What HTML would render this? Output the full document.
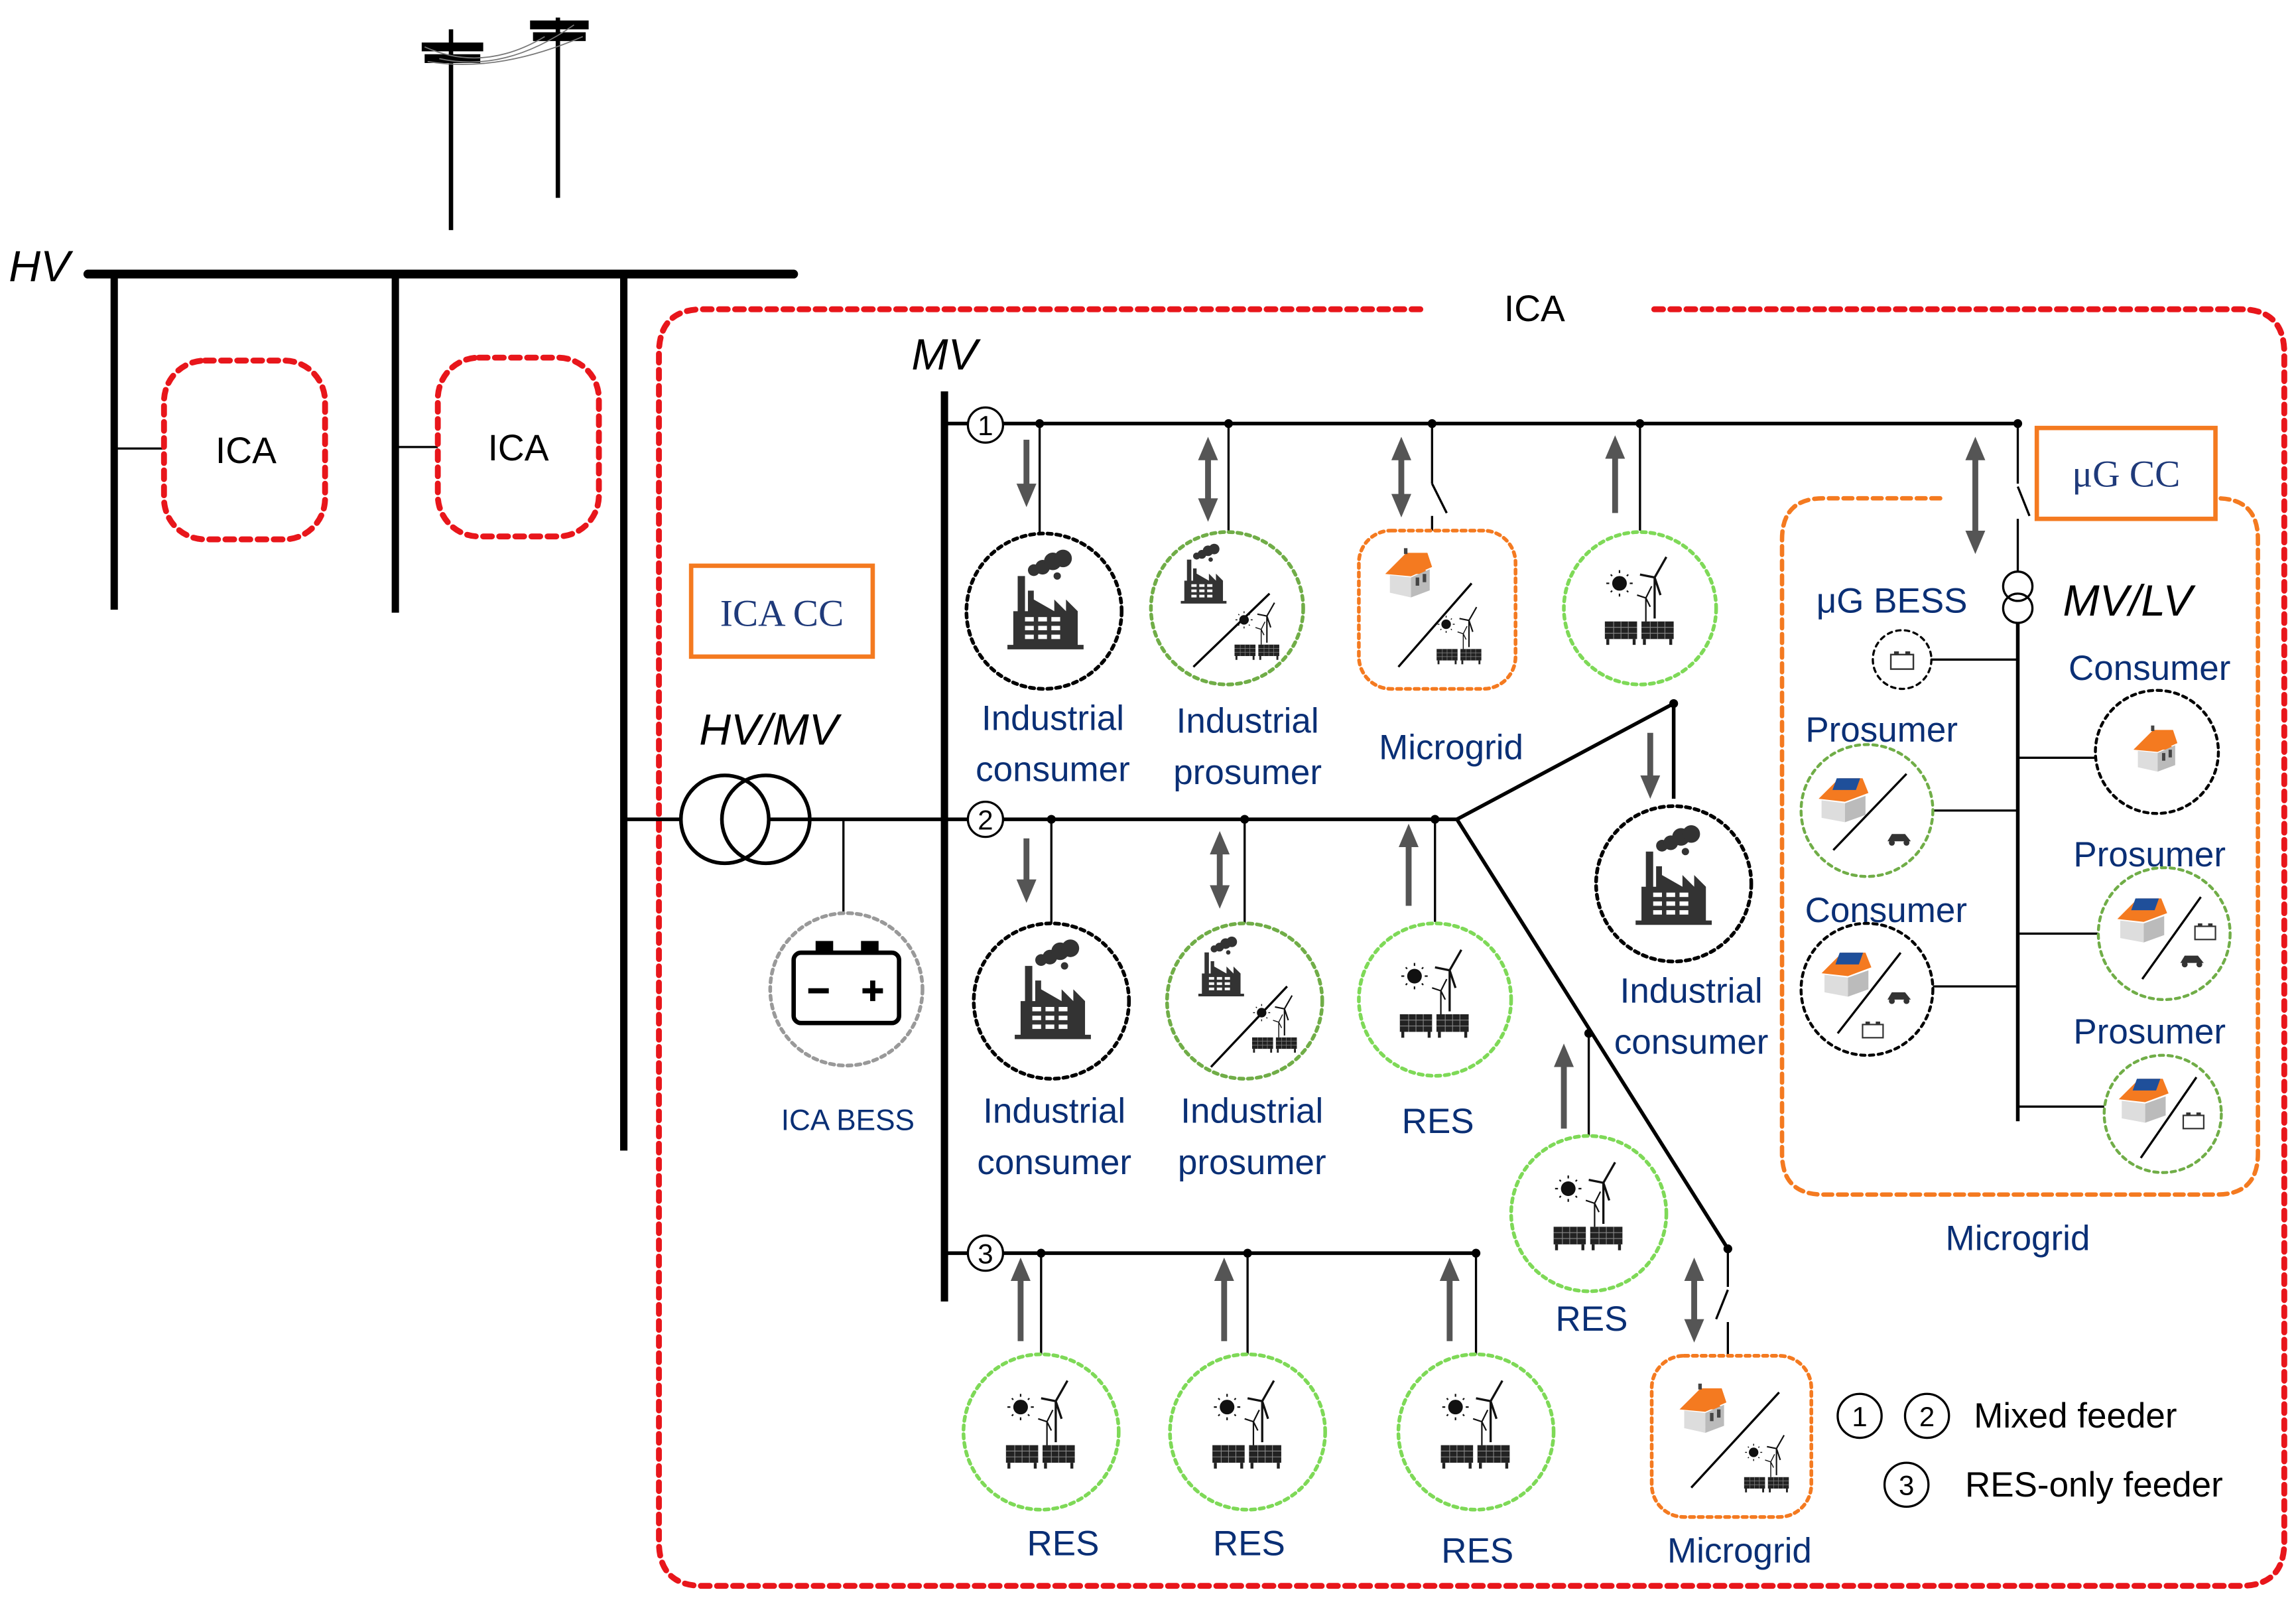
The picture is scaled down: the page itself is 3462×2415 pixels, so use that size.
<!DOCTYPE html>
<html><head><meta charset="utf-8"><style>html,body{margin:0;padding:0;background:#fff}svg{display:block}</style></head><body>
<svg width="3462" height="2415" viewBox="0 0 1568 1093" preserveAspectRatio="none" xmlns="http://www.w3.org/2000/svg" font-family="Liberation Sans, sans-serif">
<defs>
<marker id="ah" markerWidth="4" markerHeight="4" refX="2" refY="2" orient="auto-start-reverse" markerUnits="strokeWidth"><path d="M0,0.3 L4,2 L0,3.7 Z" fill="#555"/></marker>
<g id="fac"><path d="M-26,28 H26 V25 H22 V2 L14,-6 V2 L6,-6 V2 L-8,-6 V-12 H-12 V2 H-14 V-22 H-19 V2 H-22 V25 H-26 Z" fill="#333"/>
<rect x="-14" y="6" width="6" height="3" fill="#fff"/><rect x="-5" y="6" width="6" height="3" fill="#fff"/><rect x="4" y="6" width="6" height="3" fill="#fff"/>
<rect x="-14" y="12" width="6" height="3" fill="#fff"/><rect x="-5" y="12" width="6" height="3" fill="#fff"/><rect x="4" y="12" width="6" height="3" fill="#fff"/>
<rect x="-14" y="18" width="6" height="3" fill="#fff"/><rect x="-5" y="18" width="6" height="3" fill="#fff"/><rect x="4" y="18" width="6" height="3" fill="#fff"/>
<circle cx="-8" cy="-26" r="4" fill="#333"/><circle cx="-2" cy="-28" r="5" fill="#333"/><circle cx="5" cy="-32" r="6" fill="#333"/><circle cx="12" cy="-34" r="6" fill="#333"/><circle cx="8" cy="-22" r="2.5" fill="#333"/></g>
<g id="res"><circle cx="-16" cy="-14" r="5" fill="#111"/><g stroke="#111" stroke-width="1"><path d="M-16,-23 V-21 M-16,-7 V-5 M-25,-14 H-23 M-9,-14 H-7 M-22,-20 L-21,-19 M-10,-20 L-11,-19 M-22,-8 L-21,-9 M-10,-8 L-11,-9"/>
<path d="M8,10 V-18 M8,-18 L16,-32 M8,-18 L-2,-20 M8,-18 L12,-6" stroke-width="1.5"/><path d="M2,12 V-4 M2,-4 L6,-12 M2,-4 L-4,-6 M2,-4 L5,2"/></g>
<rect x="-26" y="12" width="22" height="12" fill="#222"/><rect x="-1" y="12" width="22" height="12" fill="#222"/>
<g stroke="#888" stroke-width="0.5"><path d="M-26,16H-4M-26,20H-4M-1,16H21M-1,20H21M-20,12V24M-15,12V24M-10,12V24M5,12V24M10,12V24M15,12V24"/></g>
<path d="M-24,24V28M-6,24V28M1,24V28M19,24V28" stroke="#222" stroke-width="2"/></g>
<g id="house"><path d="M-18,2 L0,-14 L18,2" fill="#f47a20"/><path d="M-20,2 L-2,-16 L16,-16 L20,-4 L2,4 Z" fill="#f47a20"/><path d="M-16,3 L2,5 V22 L-16,18 Z" fill="#ddd"/><path d="M2,5 L18,-2 V16 L2,22 Z" fill="#bbb"/><rect x="6" y="5" width="3" height="7" fill="#444"/><rect x="12" y="2" width="3" height="7" fill="#444"/><rect x="-4" y="-20" width="3" height="5" fill="#444"/></g>
<g id="shouse"><path d="M-16,2 L-2,-12 L14,-12 L18,-2 L2,4 Z" fill="#f47a20"/><path d="M-14,3 L2,5 V18 L-14,15 Z" fill="#ddd"/><path d="M2,5 L16,0 V13 L2,18 Z" fill="#bbb"/><rect x="-8" y="-12" width="16" height="8" fill="#1f4f9a" transform="skewX(-20)"/></g>
<g id="car"><path d="M-8,2 L-5,-3 H4 L8,2 Z" fill="#333"/><circle cx="-5" cy="3" r="2" fill="#333"/><circle cx="5" cy="3" r="2" fill="#333"/></g>
<g id="bat"><rect x="-7" y="-4" width="14" height="9" fill="#fff" stroke="#333" stroke-width="1"/><rect x="-5" y="-6" width="3" height="2" fill="#333"/><rect x="2" y="-6" width="3" height="2" fill="#333"/></g>
</defs>

<!-- poles -->
<g stroke="#000"><line x1="308" y1="20" x2="308" y2="157" stroke-width="3"/><line x1="381" y1="12" x2="381" y2="135" stroke-width="3"/>
<line x1="288" y1="32" x2="330" y2="32" stroke-width="6"/><line x1="290" y1="40" x2="328" y2="40" stroke-width="6"/>
<line x1="362" y1="17" x2="402" y2="17" stroke-width="6"/><line x1="364" y1="25" x2="400" y2="25" stroke-width="6"/></g>
<g stroke="#777" fill="none" stroke-width="0.8"><path d="M290,32 Q330,50 372,25"/><path d="M300,40 Q345,50 392,17"/><path d="M292,42 Q340,50 398,25"/></g>

<!-- HV -->
<text x="6" y="192" font-size="30" font-style="italic">HV</text>
<line x1="60" y1="187" x2="542" y2="187" stroke="#000" stroke-width="6" stroke-linecap="round"/>
<g stroke="#000" stroke-width="5"><line x1="78" y1="187" x2="78" y2="416"/><line x1="270" y1="187" x2="270" y2="418"/><line x1="426" y1="187" x2="426" y2="785"/></g>
<g stroke="#000" stroke-width="1.5"><line x1="78" y1="306" x2="112" y2="306"/><line x1="270" y1="305" x2="299" y2="305"/></g>
<g fill="none" stroke="#e8161b" stroke-width="4" stroke-dasharray="6,5" stroke-linecap="round">
<rect x="112" y="246" width="110" height="122" rx="28"/><rect x="299" y="244" width="110" height="122" rx="28"/>
<path d="M970,211 H480 Q450,211 450,241 V1052 Q450,1082 480,1082 H1530 Q1560,1082 1560,1052 V241 Q1560,211 1530,211 H1125"/></g>
<text x="168" y="316" font-size="25" text-anchor="middle">ICA</text>
<text x="354" y="314" font-size="25" text-anchor="middle">ICA</text>
<text x="1048" y="219" font-size="25" text-anchor="middle">ICA</text>

<!-- MV -->
<text x="645" y="252" font-size="30" font-style="italic" text-anchor="middle">MV</text>
<line x1="645" y1="267" x2="645" y2="888" stroke="#000" stroke-width="5"/>
<g stroke="#000" stroke-width="2.5" fill="none">
<line x1="645" y1="289" x2="1378" y2="289"/><line x1="426" y1="559" x2="995" y2="559"/><line x1="645" y1="855" x2="1008" y2="855"/>
<path d="M995,559 L1143,480 V545"/><path d="M995,559 L1180,852"/>
<circle cx="495" cy="559" r="30" fill="#fff"/><circle cx="523" cy="559" r="30"/></g>
<g stroke="#000" stroke-width="1.5" fill="none">
<line x1="710" y1="289" x2="710" y2="364"/><line x1="839" y1="289" x2="839" y2="362"/><line x1="978" y1="289" x2="978" y2="330"/><line x1="978" y1="330" x2="988" y2="350"/><line x1="978" y1="352" x2="978" y2="362"/>
<line x1="1120" y1="289" x2="1120" y2="362"/>
<line x1="1378" y1="289" x2="1378" y2="330"/><line x1="1378" y1="332" x2="1386" y2="352"/><line x1="1378" y1="354" x2="1378" y2="390"/>
<line x1="718" y1="559" x2="718" y2="630"/><line x1="850" y1="559" x2="850" y2="630"/><line x1="980" y1="559" x2="980" y2="629"/>
<line x1="576" y1="559" x2="576" y2="622"/>
<line x1="1085" y1="705" x2="1085" y2="775"/><line x1="1180" y1="852" x2="1180" y2="878"/><line x1="1180" y1="880" x2="1172" y2="900"/><line x1="1180" y1="902" x2="1180" y2="925"/>
<line x1="711" y1="855" x2="711" y2="924"/><line x1="852" y1="855" x2="852" y2="924"/><line x1="1008" y1="855" x2="1008" y2="924"/>
<circle cx="1378" cy="400" r="10"/><circle cx="1378" cy="415" r="10"/>
<line x1="1378" y1="425" x2="1378" y2="765" stroke-width="2.5"/>
<line x1="1319" y1="450" x2="1378" y2="450"/><line x1="1378" y1="517" x2="1431" y2="517"/><line x1="1320" y1="553" x2="1378" y2="553"/>
<line x1="1378" y1="637" x2="1433" y2="637"/><line x1="1320" y1="673" x2="1378" y2="673"/><line x1="1378" y1="755" x2="1437" y2="755"/></g>
<g fill="#000"><circle cx="710" cy="289" r="3"/><circle cx="839" cy="289" r="3"/><circle cx="978" cy="289" r="3"/><circle cx="1120" cy="289" r="3"/><circle cx="1378" cy="289" r="3"/>
<circle cx="718" cy="559" r="3"/><circle cx="850" cy="559" r="3"/><circle cx="980" cy="559" r="3"/><circle cx="1143" cy="480" r="3"/><circle cx="1085" cy="705" r="3"/><circle cx="1180" cy="852" r="3"/>
<circle cx="711" cy="855" r="3"/><circle cx="852" cy="855" r="3"/><circle cx="1008" cy="855" r="3"/></g>
<g fill="#fff" stroke="#000" stroke-width="1.5"><circle cx="673" cy="290" r="12"/><circle cx="673" cy="559" r="12"/><circle cx="673" cy="855" r="12"/>
<circle cx="1270" cy="966" r="15"/><circle cx="1316" cy="966" r="15"/><circle cx="1302" cy="1013" r="15"/></g>
<g font-size="19" text-anchor="middle"><text x="673" y="297">1</text><text x="673" y="566">2</text><text x="673" y="862">3</text>
<text x="1270" y="973">1</text><text x="1316" y="973">2</text><text x="1302" y="1020">3</text></g>
<g font-size="24"><text x="1348" y="974">Mixed feeder</text><text x="1342" y="1021">RES-only feeder</text></g>

<!-- arrows -->
<g stroke="#555" stroke-width="4" fill="none">
<line x1="701" y1="300" x2="701" y2="338" marker-end="url(#ah)"/>
<line x1="825" y1="306" x2="825" y2="348" marker-start="url(#ah)" marker-end="url(#ah)"/>
<line x1="957" y1="306" x2="957" y2="345" marker-start="url(#ah)" marker-end="url(#ah)"/>
<line x1="1103" y1="350" x2="1103" y2="305" marker-end="url(#ah)"/>
<line x1="1349" y1="306" x2="1349" y2="370" marker-start="url(#ah)" marker-end="url(#ah)"/>
<line x1="701" y1="572" x2="701" y2="608" marker-end="url(#ah)"/>
<line x1="833" y1="575" x2="833" y2="612" marker-start="url(#ah)" marker-end="url(#ah)"/>
<line x1="962" y1="618" x2="962" y2="570" marker-end="url(#ah)"/>
<line x1="1127" y1="500" x2="1127" y2="537" marker-end="url(#ah)"/>
<line x1="1068" y1="770" x2="1068" y2="720" marker-end="url(#ah)"/>
<line x1="1157" y1="866" x2="1157" y2="908" marker-start="url(#ah)" marker-end="url(#ah)"/>
<line x1="697" y1="915" x2="697" y2="866" marker-end="url(#ah)"/>
<line x1="836" y1="915" x2="836" y2="866" marker-end="url(#ah)"/>
<line x1="990" y1="915" x2="990" y2="866" marker-end="url(#ah)"/></g>

<!-- nodes -->
<g fill="none" stroke-width="2.5" stroke-dasharray="3,3" stroke-linecap="round">
<circle cx="713" cy="417" r="53" stroke="#000"/><circle cx="838" cy="415" r="52" stroke="#70ad47"/>
<rect x="928" y="362" width="107" height="108" rx="22" stroke="#f47a20"/>
<circle cx="1120" cy="415" r="52" stroke="#7ed957"/>
<circle cx="718" cy="683" r="53" stroke="#000"/><circle cx="850" cy="683" r="53" stroke="#70ad47"/><circle cx="980" cy="682" r="52" stroke="#7ed957"/>
<circle cx="1143" cy="603" r="53" stroke="#000"/><circle cx="1085" cy="828" r="53" stroke="#7ed957"/>
<rect x="1128" y="925" width="109" height="110" rx="22" stroke="#f47a20"/>
<circle cx="711" cy="977" r="53" stroke="#7ed957"/><circle cx="852" cy="977" r="53" stroke="#7ed957"/><circle cx="1008" cy="977" r="53" stroke="#7ed957"/>
<circle cx="578" cy="675" r="52" stroke="#999"/>
<circle cx="1299" cy="450" r="20" stroke="#000" stroke-width="1.5"/>
<circle cx="1473" cy="513" r="42" stroke="#000" stroke-width="2"/><circle cx="1275" cy="553" r="45" stroke="#70ad47" stroke-width="2"/>
<circle cx="1478" cy="637" r="45" stroke="#70ad47" stroke-width="2"/><circle cx="1275" cy="675" r="45" stroke="#000" stroke-width="2"/>
<circle cx="1477" cy="760" r="40" stroke="#70ad47" stroke-width="2"/>
<path d="M1325,340 H1245 Q1217,340 1217,368 V787 Q1217,815 1245,815 H1514 Q1542,815 1542,787 V368 Q1542,340 1514,340" stroke="#f47a20" stroke-width="3" stroke-dasharray="6,4"/></g>

<g stroke="#000" stroke-width="1.5">
<line x1="867" y1="405" x2="815" y2="455"/><line x1="1005" y1="398" x2="955" y2="455"/>
<line x1="879" y1="673" x2="827" y2="728"/><line x1="1215" y1="950" x2="1155" y2="1015"/>
<line x1="1302" y1="528" x2="1252" y2="580"/><line x1="1503" y1="612" x2="1463" y2="668"/><line x1="1298" y1="650" x2="1255" y2="705"/><line x1="1500" y1="735" x2="1462" y2="790"/></g>

<use href="#fac" x="714" y="415"/><use href="#fac" x="719" y="681"/><use href="#fac" x="1143" y="603"/>
<use href="#fac" transform="translate(822,395) scale(0.6)"/><use href="#fac" transform="translate(834,663) scale(0.6)"/>
<use href="#res" transform="translate(860,432) scale(0.65)"/><use href="#res" transform="translate(872,700) scale(0.65)"/>
<use href="#res" transform="translate(998,435) scale(0.65)"/><use href="#res" transform="translate(1208,1000) scale(0.65)"/>
<use href="#res" x="1122" y="412"/><use href="#res" x="982" y="680"/><use href="#res" x="1087" y="825"/>
<use href="#res" x="713" y="974"/><use href="#res" x="854" y="974"/><use href="#res" x="1010" y="974"/>
<use href="#house" transform="translate(962,390) scale(0.8)"/><use href="#house" transform="translate(1163,960) scale(0.8)"/><use href="#house" transform="translate(1472,510) scale(0.75)"/>
<use href="#shouse" transform="translate(1258,543) scale(1)"/><use href="#car" x="1297" y="572"/>
<use href="#shouse" transform="translate(1462,625)"/><use href="#car" x="1497" y="655"/><use href="#bat" x="1506" y="636"/>
<use href="#shouse" transform="translate(1260,662)" /><use href="#car" x="1297" y="680"/><use href="#bat" x="1279" y="703"/>
<use href="#shouse" transform="translate(1463,748)"/><use href="#bat" x="1498" y="765"/>
<use href="#bat" transform="translate(1299,451) scale(1.1)"/>

<!-- ICA BESS battery -->
<rect x="542" y="650" width="72" height="48" rx="5" fill="#fff" stroke="#000" stroke-width="3"/>
<rect x="557" y="642" width="12" height="8" fill="#000"/><rect x="588" y="642" width="12" height="8" fill="#000"/>
<path d="M552,676 H566 M589,676 H603 M596,669 V683" stroke="#000" stroke-width="3.5"/>

<!-- boxes -->
<rect x="472" y="386" width="124" height="62" fill="#fff" stroke="#f47a20" stroke-width="3"/>
<text x="534" y="427" font-size="26" font-family="Liberation Serif, serif" fill="#1f3a7a" text-anchor="middle">ICA CC</text>
<rect x="1391" y="292" width="122" height="62" fill="#fff" stroke="#f47a20" stroke-width="3"/>
<text x="1452" y="332" font-size="26" font-family="Liberation Serif, serif" fill="#1f3a7a" text-anchor="middle">μG CC</text>

<text x="525" y="508" font-size="30" font-style="italic" text-anchor="middle">HV/MV</text>
<text x="1453" y="420" font-size="30" font-style="italic" text-anchor="middle">MV/LV</text>

<g fill="#0a2f75" font-size="24" text-anchor="middle">
<text x="719" y="498">Industrial</text><text x="719" y="533">consumer</text>
<text x="852" y="500">Industrial</text><text x="852" y="535">prosumer</text>
<text x="991" y="518">Microgrid</text>
<text x="720" y="766">Industrial</text><text x="720" y="801">consumer</text>
<text x="855" y="766">Industrial</text><text x="855" y="801">prosumer</text>
<text x="982" y="773">RES</text>
<text x="1155" y="684">Industrial</text><text x="1155" y="719">consumer</text>
<text x="1087" y="908">RES</text>
<text x="1188" y="1066">Microgrid</text>
<text x="726" y="1061">RES</text><text x="853" y="1061">RES</text><text x="1009" y="1066">RES</text>
<text x="1292" y="418">μG BESS</text>
<text x="1468" y="464">Consumer</text><text x="1285" y="506">Prosumer</text>
<text x="1468" y="591">Prosumer</text><text x="1288" y="629">Consumer</text><text x="1468" y="712">Prosumer</text>
<text x="1378" y="853">Microgrid</text>
<text x="579" y="771" font-size="20">ICA BESS</text></g>
</svg>
</body></html>
